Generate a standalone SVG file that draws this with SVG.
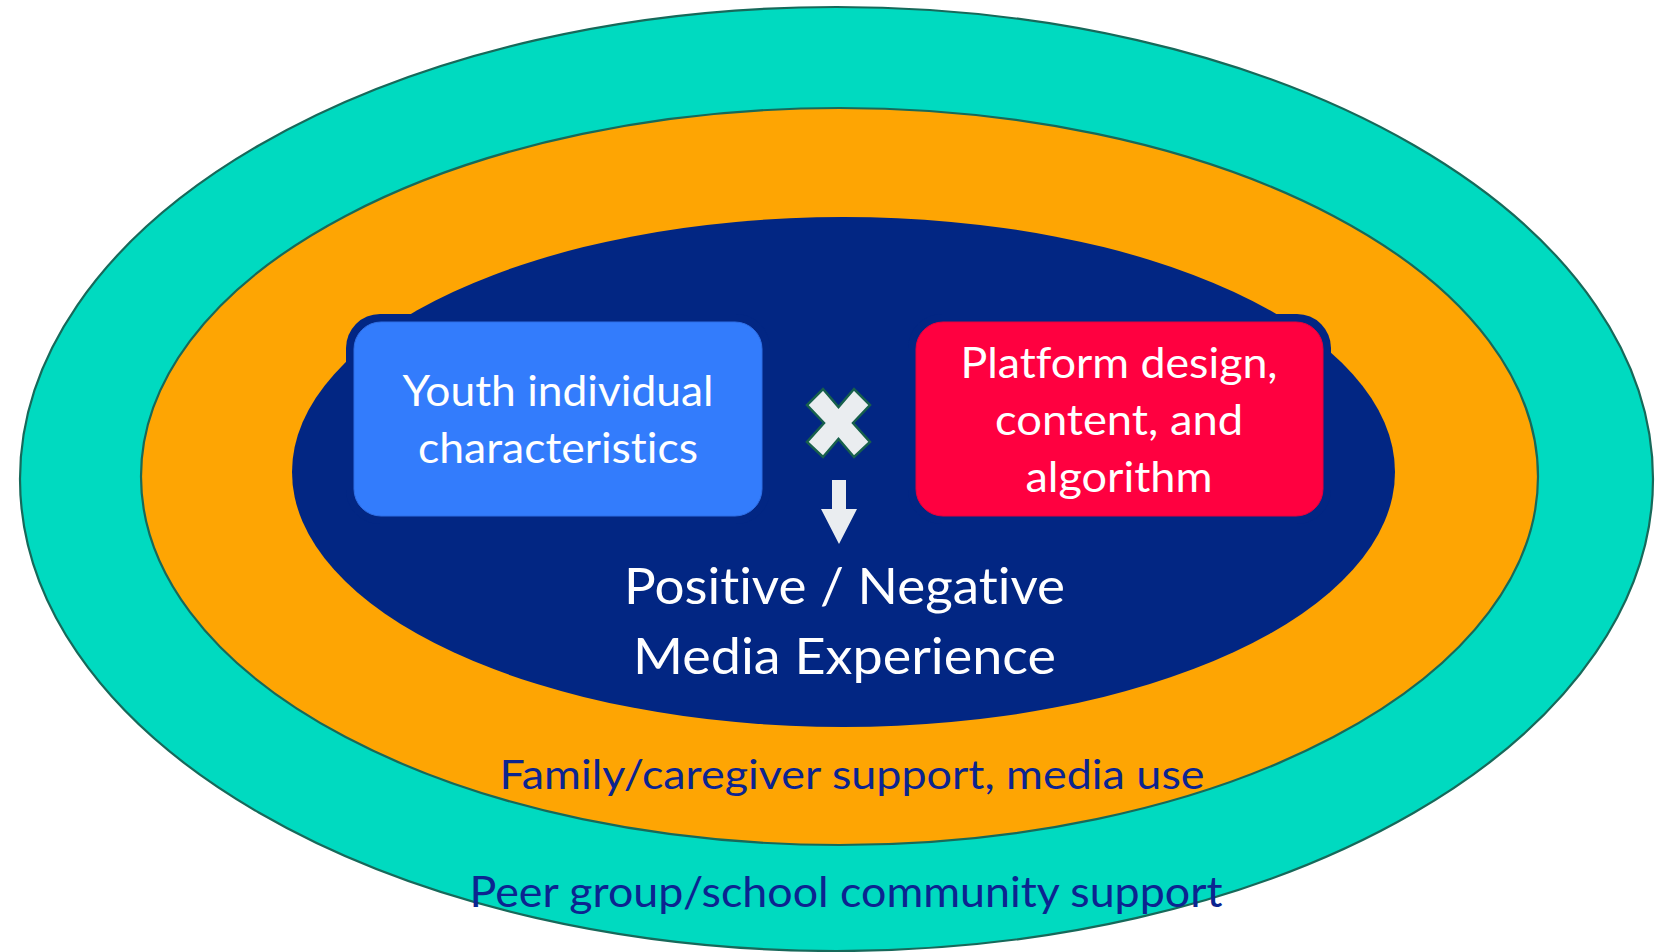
<svg xmlns="http://www.w3.org/2000/svg" width="1665" height="952" viewBox="0 0 1665 952">
  <style>
    .ring { stroke: #17695a; stroke-width: 2.2; }
    .label { font-family: Lato, "Open Sans", "Liberation Sans", sans-serif; text-anchor: middle;
             font-variant-ligatures: none; font-feature-settings: "liga" 0, "clig" 0; }
    .white { fill: #ffffff; }
    .navytext { fill: #0c2490; }
    .sym { fill: #eaedf0; }
  </style>
  <rect width="1665" height="952" fill="#ffffff"/>

  <!-- Concentric context layers -->
  <g id="peer-layer">
    <ellipse class="ring" cx="836.5" cy="479" rx="816.5" ry="472" fill="#00dac0"/>
  </g>
  <g id="family-layer">
    <ellipse class="ring" cx="839.5" cy="476.5" rx="698.5" ry="368.5" fill="#fea503"/>
  </g>
  <g id="experience-layer">
    <ellipse cx="843.5" cy="472" rx="551.5" ry="255" fill="#022683"/>
  </g>

  <!-- Youth characteristics box -->
  <g id="youth-box">
    <rect x="346" y="314" width="424" height="210" rx="34" fill="#022683"/>
    <rect x="354" y="322" width="408" height="194" rx="27" fill="#337cfc" stroke="#2f6fe6" stroke-width="1"/>
    <text class="label white" font-size="42" x="558" y="406" textLength="311" lengthAdjust="spacingAndGlyphs">Youth individual</text>
    <text class="label white" font-size="42" x="558" y="463" textLength="280" lengthAdjust="spacingAndGlyphs">characteristics</text>
  </g>

  <!-- Platform box -->
  <g id="platform-box">
    <rect x="908" y="314" width="423" height="210" rx="34" fill="#022683"/>
    <rect x="916" y="322" width="407" height="194" rx="27" fill="#ff0040" stroke="#e8003a" stroke-width="1"/>
    <text class="label white" font-size="42" x="1119" y="378" textLength="317" lengthAdjust="spacingAndGlyphs">Platform design,</text>
    <text class="label white" font-size="42" x="1119" y="435" textLength="248" lengthAdjust="spacingAndGlyphs">content, and</text>
    <text class="label white" font-size="42" x="1119" y="492" textLength="187" lengthAdjust="spacingAndGlyphs">algorithm</text>
  </g>

  <!-- Interaction sign and result arrow -->
  <g id="connectors">
    <polygon id="multiply" class="sym" stroke="#17604c" stroke-width="2.5" stroke-linejoin="miter"
      points="823,389 838.5,407 854,389 870,405 853,423 870,442 854,457 838.5,439 823,457 807,442 824,423 807,405"/>
    <polygon id="down-arrow" class="sym" points="832,480 846,480 846,509 857,509 839,544 821,509 832,509"/>
  </g>

  <!-- Outcome label -->
  <g id="outcome">
    <text class="label white" font-size="50" x="844.5" y="604" textLength="441" lengthAdjust="spacingAndGlyphs">Positive / Negative</text>
    <text class="label white" font-size="50" x="844.5" y="674" textLength="423" lengthAdjust="spacingAndGlyphs">Media Experience</text>
  </g>

  <g id="family-label">
    <text class="label navytext" font-size="41" x="852" y="789" textLength="705" lengthAdjust="spacingAndGlyphs">Family/caregiver support, media use</text>
  </g>
  <g id="peer-label">
    <text class="label navytext" font-size="42" x="846" y="907" textLength="753" lengthAdjust="spacingAndGlyphs">Peer group/school community support</text>
  </g>
</svg>
